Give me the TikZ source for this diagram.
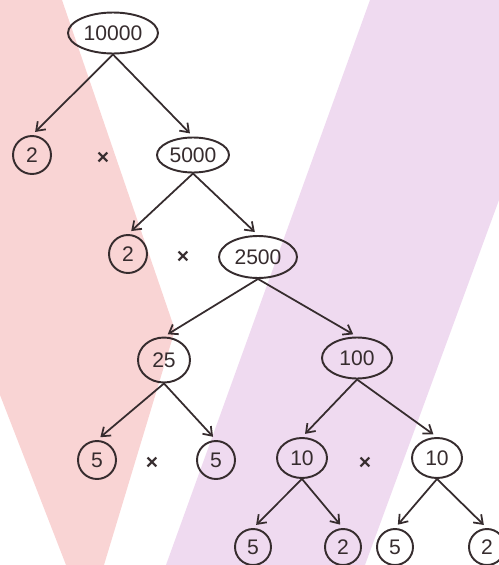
\documentclass[tikz,border=0pt]{standalone}
\usepackage{fontspec}
\setmainfont{Liberation Sans}
\usetikzlibrary{shapes.geometric,arrows.meta}
\definecolor{inkc}{HTML}{362C2E}
\definecolor{pinkc}{HTML}{F9D4D4}
\definecolor{purpc}{HTML}{EFDAF0}
\tikzset{
  ell/.style={ellipse,draw=inkc,line width=1.1pt,inner sep=0pt,text=inkc,font=\fontsize{12}{14}\selectfont},
  circ/.style={circle,draw=inkc,line width=1.1pt,inner sep=0pt,minimum size=0.76cm,text=inkc,font=\fontsize{12}{14}\selectfont},
  times/.style={text=inkc,inner sep=0pt,font=\fontsize{12}{14}\selectfont\bfseries},
  arr/.style={draw=inkc,line width=1pt,-{Straight Barb[length=4.5pt,width=6.5pt]},shorten >=2.5pt}
}
\begin{document}
\begin{tikzpicture}[x=0.02cm,y=-0.02cm]
\useasboundingbox (0,0) rectangle (499,565);
\fill[pinkc] (0,0) -- (62,0) -- (175,330) -- (104,565) -- (66,565) -- (0,395) -- cycle;
\fill[purpc] (370,0) -- (499,0) -- (499,200) -- (365,565) -- (166,565) -- cycle;

\node[ell,minimum width=1.8cm,minimum height=0.82cm] (n10000) at (113,33) {10000};
\node[circ] (n2a) at (32,155) {2};
\node[times] (x1) at (103,158) {×};
\node[ell,minimum width=1.44cm,minimum height=0.7cm] (n5000) at (193,155) {5000};
\node[circ] (n2b) at (128,254) {2};
\node[times] (x2) at (183,257) {×};
\node[ell,minimum width=1.56cm,minimum height=0.84cm] (n2500) at (258,257) {2500};
\node[ell,minimum width=1.04cm,minimum height=0.9cm] (n25) at (164,360) {25};
\node[ell,minimum width=1.4cm,minimum height=0.82cm] (n100) at (357,358) {100};
\node[circ] (n5a) at (97,460) {5};
\node[times] (x3) at (152,463) {×};
\node[circ] (n5b) at (216,460) {5};
\node[ell,minimum width=1.0cm,minimum height=0.8cm] (n10a) at (302,458) {10};
\node[times] (x4) at (365,463) {×};
\node[ell,minimum width=1.0cm,minimum height=0.8cm] (n10b) at (437,458) {10};
\node[circ,minimum size=0.72cm] (n5c) at (253,547) {5};
\node[circ,minimum size=0.72cm] (n2c) at (343,547) {2};
\node[circ,minimum size=0.72cm] (n5d) at (395,547) {5};
\node[circ,minimum size=0.72cm] (n2d) at (487,547) {2};

\draw[arr] (n10000.south) -- (n2a.north);
\draw[arr] (n10000.south) -- (n5000.north);
\draw[arr] (n5000.south) -- (n2b.north);
\draw[arr] (n5000.south) -- (n2500.north);
\draw[arr] (n2500.south) -- (n25.north);
\draw[arr] (n2500.south) -- (n100.north);
\draw[arr] (n25.south) -- (n5a.north);
\draw[arr] (n25.south) -- (n5b.north);
\draw[arr] (n100.south) -- (n10a.north);
\draw[arr] (n100.south) -- (n10b.north);
\draw[arr] (n10a.south) -- (n5c.north);
\draw[arr] (n10a.south) -- (n2c.north);
\draw[arr] (n10b.south) -- (n5d.north);
\draw[arr] (n10b.south) -- (n2d.north);
\end{tikzpicture}
\end{document}
